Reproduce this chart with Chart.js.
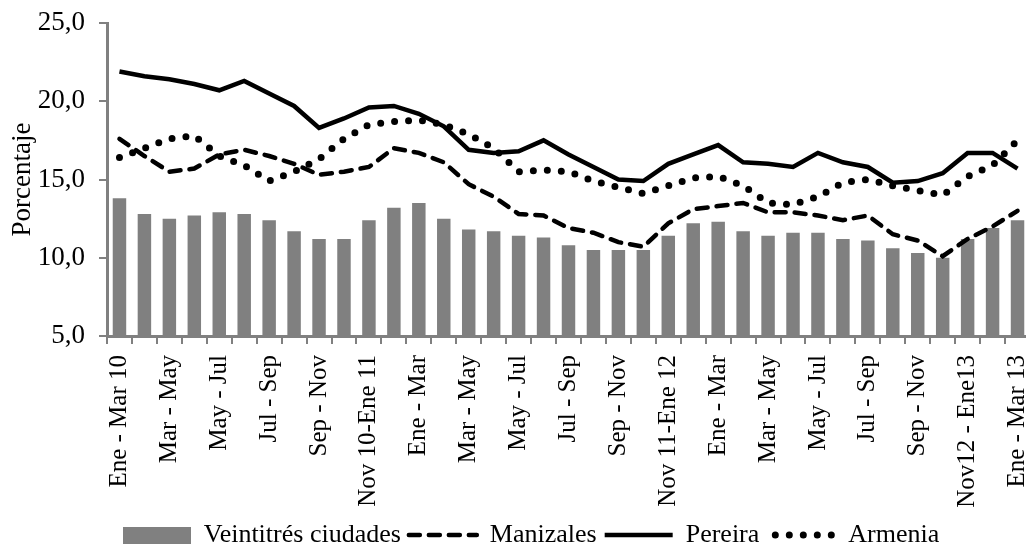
<!DOCTYPE html>
<html lang="es">
<head>
  <meta charset="UTF-8">
  <title>Tasa de desempleo - Eje Cafetero</title>
  <script src="https://cdn.jsdelivr.net/npm/chart.js"></script>
  <style>
    html, body { margin: 0; padding: 0; background: #fff; overflow: hidden; }
    #wrap { width: 1030px; height: 545px; }
  </style>
</head>
<body>
  <div id="wrap"><canvas id="chart"></canvas></div>

  <script>
    // trimestres móviles, ene-mar 2010 a ene-mar 2013
    const periods = [
      'Ene - Mar 10', 'Feb - Abr', 'Mar - May', 'Abr - Jun', 'May - Jul', 'Jun - Ago',
      'Jul - Sep', 'Ago - Oct', 'Sep - Nov', 'Oct - Dic', 'Nov 10-Ene 11', 'Dic - Feb',
      'Ene - Mar', 'Feb - Abr', 'Mar - May', 'Abr - Jun', 'May - Jul', 'Jun - Ago',
      'Jul - Sep', 'Ago - Oct', 'Sep - Nov', 'Oct - Dic', 'Nov 11-Ene 12', 'Dic - Feb',
      'Ene - Mar', 'Feb - Abr', 'Mar - May', 'Abr - Jun', 'May - Jul', 'Jun - Ago',
      'Jul - Sep', 'Ago - Oct', 'Sep - Nov', 'Oct - Dic', 'Nov12 - Ene13', 'Dic - Feb',
      'Ene - Mar 13'
    ];

    const ciudades23 = [
      13.8, 12.8, 12.5, 12.7, 12.9, 12.8, 12.4, 11.7, 11.2, 11.2,
      12.4, 13.2, 13.5, 12.5, 11.8, 11.7, 11.4, 11.3, 10.8, 10.5,
      10.5, 10.5, 11.4, 12.2, 12.3, 11.7, 11.4, 11.6, 11.6, 11.2,
      11.1, 10.6, 10.3, 10.0, 11.2, 11.9, 12.4
    ];
    const manizales = [
      17.6, 16.5, 15.5, 15.7, 16.6, 16.9, 16.5, 16.0, 15.3, 15.5,
      15.8, 17.0, 16.7, 16.1, 14.7, 13.9, 12.8, 12.7, 11.9, 11.6,
      11.0, 10.7, 12.2, 13.1, 13.3, 13.5, 12.9, 12.9, 12.7, 12.4,
      12.7, 11.5, 11.1, 10.1, 11.2, 12.0, 13.0
    ];
    const pereira = [
      21.9, 21.6, 21.4, 21.1, 20.7, 21.3, 20.5, 19.7, 18.3, 18.9,
      19.6, 19.7, 19.2, 18.4, 16.9, 16.7, 16.8, 17.5, 16.6, 15.8,
      15.0, 14.9, 16.0, 16.6, 17.2, 16.1, 16.0, 15.8, 16.7, 16.1,
      15.8, 14.8, 14.9, 15.4, 16.7, 16.7, 15.7
    ];
    const armenia = [
      16.4, 17.0, 17.6, 17.8, 16.5, 15.9, 14.9, 15.5, 16.3, 17.6,
      18.5, 18.7, 18.8, 18.5, 17.9, 17.0, 15.5, 15.6, 15.5, 14.9,
      14.5, 14.1, 14.6, 15.1, 15.2, 14.6, 13.5, 13.4, 13.9, 14.8,
      15.0, 14.6, 14.3, 14.0, 15.2, 15.9, 17.5
    ];

    const gray = '#808080';
    const serif = 'Liberation Serif';

    // muestra rectangular gris para la leyenda de las barras
    const barSwatch = document.createElement('canvas');
    barSwatch.width = 68;
    barSwatch.height = 17;
    const sctx = barSwatch.getContext('2d');
    sctx.fillStyle = gray;
    sctx.fillRect(0, 0, 68, 17);

    // la leyenda de Excel no queda centrada en el lienzo
    const legendShift = {
      id: 'legendShift',
      afterLayout(c) {
        c.legend.left += 16;
        c.legend.right += 16;
      }
    };

    const chart = new Chart(document.getElementById('chart'), {
      type: 'bar',
      data: {
        labels: periods,
        datasets: [
          {
            type: 'bar',
            label: 'Veintitrés ciudades',
            data: ciudades23,
            backgroundColor: gray,
            barPercentage: 0.54,
            categoryPercentage: 1,
            order: 1
          },
          {
            type: 'line',
            label: 'Manizales',
            data: manizales,
            borderColor: '#000',
            borderWidth: 4.5,
            borderDash: [11, 9],
            borderCapStyle: 'round',
            pointRadius: 0,
            tension: 0,
            order: 0
          },
          {
            type: 'line',
            label: 'Pereira',
            data: pereira,
            borderColor: '#000',
            borderWidth: 4.5,
            pointRadius: 0,
            tension: 0,
            order: 0
          },
          {
            type: 'line',
            label: 'Armenia',
            data: armenia,
            borderColor: '#000',
            borderWidth: 7,
            borderDash: [0, 14],
            borderCapStyle: 'round',
            pointRadius: 0,
            tension: 0,
            order: 0
          }
        ]
      },
      options: {
        responsive: true,
        maintainAspectRatio: false,
        animation: false,
        layout: { padding: { top: 0, left: 0, right: 0, bottom: -13 } },
        plugins: {
          tooltip: { enabled: false },
          legend: {
            position: 'bottom',
            labels: {
              usePointStyle: true,
              pointStyleWidth: 68,
              padding: 8,
              color: '#000',
              font: { family: serif, size: 26 },
              sort: (a, b) => a.datasetIndex - b.datasetIndex,
              generateLabels(c) {
                const items = Chart.defaults.plugins.legend.labels.generateLabels(c);
                items.forEach(it => {
                  const ds = c.data.datasets[it.datasetIndex];
                  if (it.datasetIndex === 0) {
                    it.pointStyle = barSwatch;
                  } else {
                    it.pointStyle = 'line';
                    it.strokeStyle = '#000';
                    it.lineWidth = ds.borderWidth;
                    it.lineDash = ds.borderDash || [];
                    it.lineCap = ds.borderCapStyle || 'butt';
                    if (it.datasetIndex === 3) it.lineDashOffset = -8;
                  }
                });
                return items;
              }
            }
          }
        },
        scales: {
          x: {
            grid: {
              offset: true,
              drawOnChartArea: false,
              drawTicks: true,
              tickLength: 8,
              color: gray,
              lineWidth: 2
            },
            border: { display: true, color: gray, width: 3 },
            ticks: {
              autoSkip: false,
              minRotation: 90,
              maxRotation: 90,
              padding: 11,
              color: '#000',
              font: { family: serif, size: 25 },
              callback: (v, i) => (i % 2 === 0 ? periods[i] : '')
            },
            afterFit(scale) {
              scale.paddingLeft = 0;
              scale.paddingRight = 0;
              scale.height = 178;
            }
          },
          y: {
            min: 5,
            max: 25,
            grid: {
              drawOnChartArea: false,
              drawTicks: true,
              tickLength: 8,
              color: gray,
              lineWidth: 2
            },
            border: { display: true, color: gray, width: 3 },
            ticks: {
              stepSize: 5,
              padding: 14,
              color: '#000',
              font: { family: serif, size: 27 },
              callback: v => v.toFixed(1).replace('.', ',')
            },
            title: {
              display: true,
              text: 'Porcentaje',
              color: '#000',
              font: { family: serif, size: 27 },
              padding: { top: 7, bottom: 0 }
            },
            afterFit(scale) {
              scale.width = 107;
              scale.paddingTop = 23;
              scale.paddingBottom = 0;
            }
          }
        }
      },
      plugins: [legendShift]
    });
  </script>
</body>
</html>
